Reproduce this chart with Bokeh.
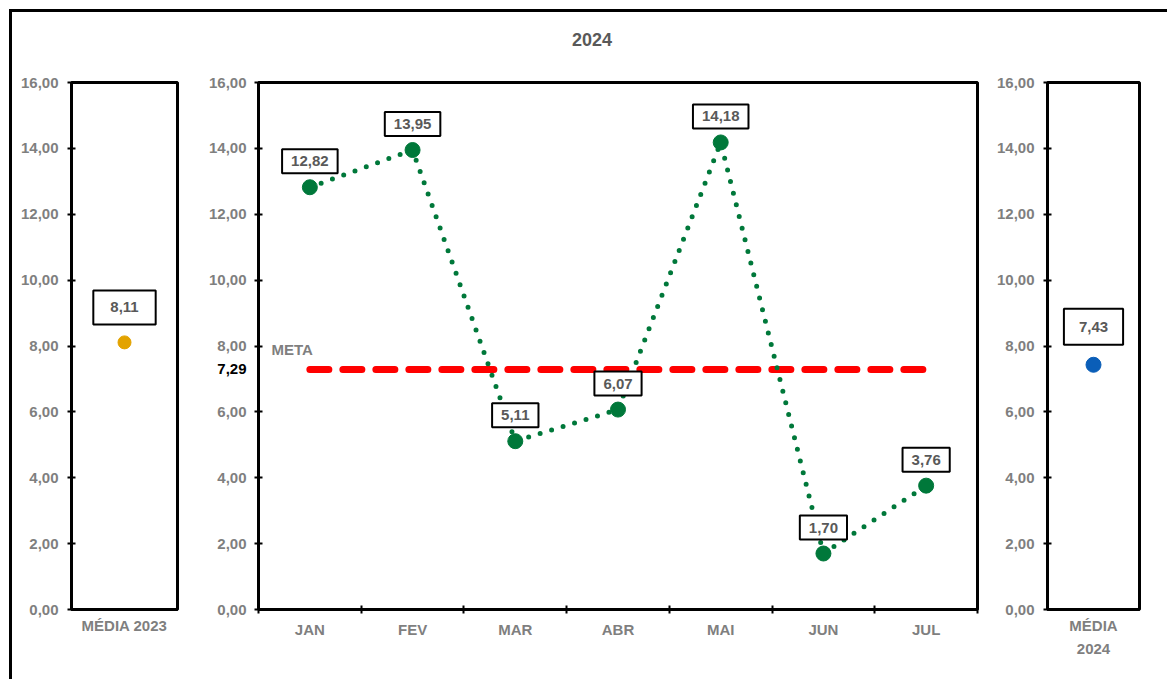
from bokeh.plotting import figure
from bokeh.models import (Range1d, FixedTicker, Label, Div, CustomJSTickFormatter,
                          LinearAxis)
from bokeh.layouts import row, column
from bokeh.embed import file_html
from bokeh.resources import INLINE

# ---------------- data ----------------
title_text = "2024"
months = ["JAN", "FEV", "MAR", "ABR", "MAI", "JUN", "JUL"]
values_2024 = [12.82, 13.95, 5.11, 6.07, 14.18, 1.70, 3.76]
meta_label = "META"
meta_value = 7.29
media_2023_cat = ["MÉDIA 2023"]
media_2023 = [8.11]
media_2024_cat = ["MÉDIA\n2024"]
media_2024 = [7.43]
y_ticks = [0, 2, 4, 6, 8, 10, 12, 14, 16]

# ---------------- styles ----------------
FONT = "Liberation Sans"
AXIS_GRAY = "#7F7F7F"
TEXT_GRAY = "#595959"
GREEN = "#00783A"
GOLD = "#E3A300"
BLUE = "#0A5EB8"
FIG_H = 607
TOP, BOTTOM = 10, 70
Y_FMT = "return tick.toFixed(2).replace('.', ',')"


def fmt(v):
    return f"{v:.2f}".replace(".", ",")


def centers(cats):
    return [i + 0.5 for i in range(len(cats))]


def style_label_text(ax, color):
    ax.major_label_text_font = FONT
    ax.major_label_text_font_style = "bold"
    ax.major_label_text_font_size = "15px"
    ax.major_label_text_color = color


def make_fig(cats, width, left, right, edge_ticks, meta=None):
    p = figure(width=width, height=FIG_H, x_range=Range1d(0, len(cats)),
               y_range=Range1d(0, 16), output_backend="svg", toolbar_location=None,
               min_border_left=left, min_border_right=right,
               min_border_top=TOP, min_border_bottom=BOTTOM)
    p.xgrid.visible = False
    p.ygrid.visible = False
    p.outline_line_color = "black"
    p.outline_line_width = 3
    p.outline_line_alpha = 1
    p.border_fill_color = "white"
    p.background_fill_color = "white"

    ya = p.yaxis[0]
    ya.formatter = CustomJSTickFormatter(code=Y_FMT)
    ya.axis_line_color = "black"
    ya.axis_line_width = 3
    if meta is None:
        ya.ticker = FixedTicker(ticks=y_ticks, minor_ticks=[])
        ya.major_tick_line_color = "black"
        ya.major_tick_line_width = 2
        ya.major_tick_in = 4
        ya.major_tick_out = 4
        ya.minor_tick_line_color = None
        ya.major_label_standoff = 9
        style_label_text(ya, AXIS_GRAY)
    else:
        # inner axis: tick marks at the grid values, black label at the target value
        ya.ticker = FixedTicker(ticks=[meta], minor_ticks=y_ticks)
        ya.major_tick_line_color = None
        ya.major_tick_in = 0
        ya.major_tick_out = 0
        ya.minor_tick_line_color = "black"
        ya.minor_tick_line_width = 2
        ya.minor_tick_in = 4
        ya.minor_tick_out = 4
        ya.major_label_standoff = 8
        style_label_text(ya, "black")
        # outer axis: gray value labels, pulled back next to the frame
        outer = LinearAxis(ticker=FixedTicker(ticks=y_ticks, minor_ticks=[]),
                           formatter=CustomJSTickFormatter(code=Y_FMT))
        outer.axis_line_color = None
        outer.major_tick_line_color = None
        outer.minor_tick_line_color = None
        outer.major_tick_in = 0
        outer.major_tick_out = 0
        outer.major_label_standoff = -32
        style_label_text(outer, AXIS_GRAY)
        p.add_layout(outer, "left")

    xa = p.xaxis[0]
    xa.ticker = FixedTicker(ticks=centers(cats),
                            minor_ticks=list(range(len(cats) + 1)) if edge_ticks else [])
    xa.formatter = CustomJSTickFormatter(args=dict(labels=cats),
                                         code="return labels[Math.floor(tick)]")
    xa.axis_line_color = "black"
    xa.axis_line_width = 3
    xa.major_tick_line_color = None
    xa.major_tick_in = 0
    xa.major_tick_out = 0
    if edge_ticks:
        xa.minor_tick_line_color = "black"
        xa.minor_tick_line_width = 2
        xa.minor_tick_in = 4
        xa.minor_tick_out = 4
    else:
        xa.minor_tick_line_color = None
    xa.major_label_standoff = 7
    style_label_text(xa, AXIS_GRAY)
    xa.major_label_text_line_height = 1.4
    return p


def box_labels(p, xs, ys, y_off, pad):
    for x, y in zip(xs, ys):
        p.add_layout(Label(x=x, y=y, text=fmt(y), text_align="center",
                           text_baseline="middle", y_offset=y_off,
                           text_font=FONT, text_font_style="bold", text_font_size="15px",
                           text_color=TEXT_GRAY, border_line_color="black",
                           border_line_width=2, background_fill_color="white",
                           padding=pad))


# ---------- left panel: média 2023 ----------
p1 = make_fig(media_2023_cat, 187, 59, 22, False)
x1 = centers(media_2023_cat)
p1.scatter(x1, media_2023, size=13, color=GOLD)
box_labels(p1, x1, media_2023, 35, (17, 17, 12, 12))

# ---------- middle panel: 2024 ----------
p2 = make_fig(months, 790, 59, 12, True, meta=meta_value)
x2 = centers(months)
p2.line(x2, [meta_value] * len(months), line_color="#FF0000", line_width=7,
        line_dash="19 14", line_cap="round")
p2.line(x2, values_2024, line_color=GREEN, line_width=5, line_dash="0 12",
        line_cap="round")
p2.scatter(x2, values_2024, size=15, color=GREEN)
box_labels(p2, x2, values_2024, 26, (9, 9, 7, 7))
p2.add_layout(Label(x=0, y=8, text=meta_label, x_offset=13, y_offset=-3,
                    text_align="left", text_baseline="middle", text_font=FONT,
                    text_font_style="bold", text_font_size="15px", text_color=AXIS_GRAY))

# ---------- right panel: média 2024 ----------
p3 = make_fig(media_2024_cat, 170, 58, 20, False)
x3 = centers(media_2024_cat)
p3.scatter(x3, media_2024, size=15, color=BLUE)
box_labels(p3, x3, media_2024, 38, (15, 15, 13, 13))

title = Div(text=f'<div style="padding-top:11px">{title_text}</div>', width=1150, height=50,
            styles={"text-align": "center", "font-family": FONT, "font-weight": "bold",
                    "font-size": "18px", "color": TEXT_GRAY})

layout = column(title, row(p1, p2, p3, spacing=0), spacing=0,
                styles={"border-left": "3px solid black", "border-top": "3px solid black",
                        "margin-left": "9px", "margin-top": "9px", "background": "white"})

open("out.html", "w").write(file_html(layout, INLINE))
